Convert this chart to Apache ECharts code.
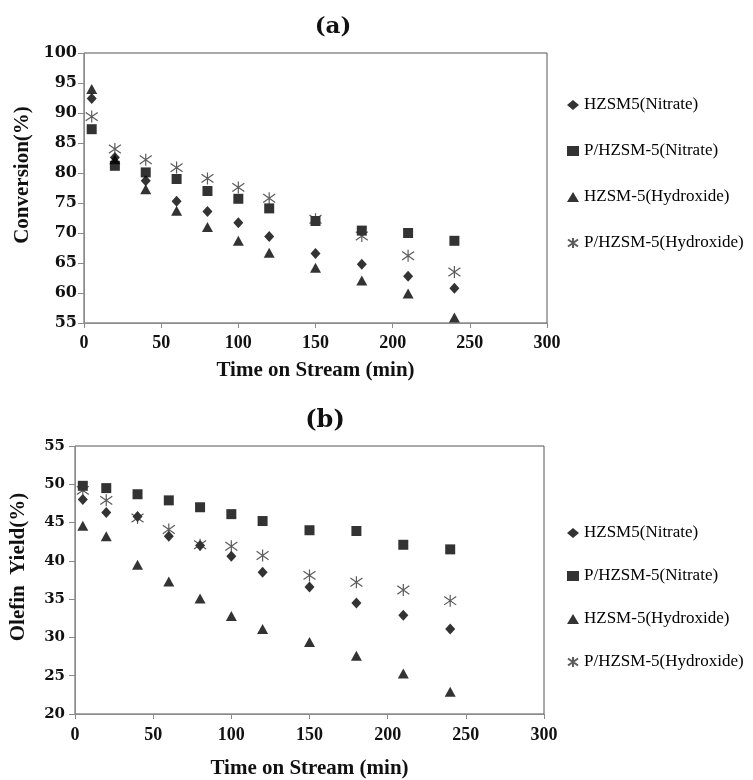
<!DOCTYPE html>
<html>
<head>
<meta charset="utf-8">
<script src="https://cdn.jsdelivr.net/npm/echarts@6/dist/echarts.min.js"></script>
<style>
html,body{margin:0;padding:0;background:#fff;}
#chart{width:753px;height:780px;}
</style>
</head>
<body>
<div id="chart"></div>
<script>
// ---- data ----
const time = [5, 20, 40, 60, 80, 100, 120, 150, 180, 210, 240];
const seriesNames = ['HZSM5(Nitrate)', 'P/HZSM-5(Nitrate)', 'HZSM-5(Hydroxide)', 'P/HZSM-5(Hydroxide)'];

// (a) Conversion (%)
const convHZSM5Nitrate    = [92.4, 82.6, 78.7, 75.3, 73.6, 71.7, 69.4, 66.6, 64.8, 62.8, 60.8];
const convPHZSM5Nitrate   = [87.3, 81.2, 80.1, 79.0, 77.0, 75.7, 74.1, 72.0, 70.4, 70.0, 68.7];
const convHZSM5Hydroxide  = [94.0, 82.3, 77.3, 73.7, 71.0, 68.7, 66.7, 64.2, 62.1, 59.9, 55.9];
const convPHZSM5Hydroxide = [89.4, 84.0, 82.2, 80.9, 79.1, 77.6, 75.8, 72.3, 69.5, 66.2, 63.5];

// (b) Olefin Yield (%)
const yieldHZSM5Nitrate    = [48.0, 46.3, 45.8, 43.2, 42.0, 40.6, 38.5, 36.6, 34.5, 32.9, 31.1];
const yieldPHZSM5Nitrate   = [49.8, 49.5, 48.7, 47.9, 47.0, 46.1, 45.2, 44.0, 43.9, 42.1, 41.5];
const yieldHZSM5Hydroxide  = [44.6, 43.2, 39.5, 37.3, 35.1, 32.8, 31.1, 29.4, 27.6, 25.3, 22.9];
const yieldPHZSM5Hydroxide = [49.2, 47.9, 45.6, 44.1, 42.1, 41.9, 40.7, 38.1, 37.2, 36.2, 34.8];

// ---- styling ----
const serif = '"Liberation Serif", "Times New Roman", serif';
const wideSerif = '"DejaVu Serif", serif';
const asteriskPath = 'path://M6,0L6,12M0,1.8L12,10.2M0,10.2L12,1.8';

const markers = [
  { symbol: 'diamond', size: [10, 11], itemStyle: { color: '#000' } },
  { symbol: 'rect', size: 10, itemStyle: { color: '#000' } },
  { symbol: 'triangle', size: [11, 10], itemStyle: { color: '#000' } },
  { symbol: asteriskPath, size: 12, itemStyle: { color: 'rgba(0,0,0,0)', borderColor: '#333', borderWidth: 1.2 } }
];

function pairs(ys) { return time.map((t, i) => [t, ys[i]]); }

function makeSeries(idx, datasets) {
  return datasets.map((ys, k) => ({
    type: 'scatter',
    name: seriesNames[k],
    xAxisIndex: idx,
    yAxisIndex: idx,
    symbol: markers[k].symbol,
    symbolSize: markers[k].size,
    itemStyle: markers[k].itemStyle,
    data: pairs(ys),
    z: 2 + k
  }));
}

function xAxisCfg(grid, gap, labelMargin) {
  return {
    type: 'value', gridIndex: grid, min: 0, max: 300, interval: 50,
    name: 'Time on Stream (min)', nameLocation: 'middle', nameGap: gap,
    nameTextStyle: { fontFamily: serif, fontWeight: 'bold', fontSize: 21, color: '#111' },
    axisLine: { show: true, lineStyle: { color: '#8a8a8a', width: 1 } },
    axisTick: { show: true, inside: false, length: 5, lineStyle: { color: '#8a8a8a' } },
    axisLabel: { fontFamily: serif, fontWeight: 'bold', fontSize: 18, color: '#111', margin: labelMargin },
    splitLine: { show: false }
  };
}

function yAxisCfg(grid, min, max, name, gap, labelSize, labelMargin) {
  return {
    type: 'value', gridIndex: grid, min: min, max: max, interval: 5,
    name: name, nameLocation: 'middle', nameGap: gap, nameRotate: 90,
    nameTextStyle: { fontFamily: serif, fontWeight: 'bold', fontSize: 21, color: '#111', padding: [0, 0, 0, 26] },
    axisLine: { show: true, lineStyle: { color: '#8a8a8a', width: 1 } },
    axisTick: { show: true, inside: false, length: 6, lineStyle: { color: '#8a8a8a' } },
    axisLabel: { fontFamily: wideSerif, fontWeight: 'bold', fontSize: labelSize, color: '#111', margin: labelMargin },
    splitLine: { show: false }
  };
}

function legendCfg(top, gap) {
  return {
    orient: 'vertical', left: 567, top: top, itemGap: gap,
    itemWidth: 12, itemHeight: 10, padding: 0,
    data: seriesNames,
    textStyle: { fontFamily: serif, fontSize: 17, color: '#000', lineHeight: 18 },
    selectedMode: false
  };
}

const option = {
  backgroundColor: '#fff',
  animation: false,
  title: [
    { text: '(a)', left: 333, top: 16, textAlign: 'center', padding: 0,
      textStyle: { fontFamily: wideSerif, fontWeight: 'bold', fontSize: 23, color: '#111' } },
    { text: '(b)', left: 325, top: 409, textAlign: 'center', padding: 0,
      textStyle: { fontFamily: wideSerif, fontWeight: 'bold', fontSize: 24, color: '#111' } }
  ],
  legend: [legendCfg(96, 28), legendCfg(524, 25)],
  grid: [
    { left: 84, top: 53, width: 463, height: 270, show: true, borderColor: '#555', borderWidth: 1, containLabel: false },
    { left: 73, top: 446, width: 471, height: 269, show: true, borderColor: '#555', borderWidth: 1, containLabel: false }
  ],
  xAxis: [xAxisCfg(0, 37, 11), xAxisCfg(1, 44, 12)],
  yAxis: [
    yAxisCfg(0, 55, 100, 'Conversion(%)', 44, 16, 7),
    yAxisCfg(1, 20, 55, 'Olefin  Yield(%)', 46, 15, 10)
  ],
  series: [].concat(
    makeSeries(0, [convHZSM5Nitrate, convPHZSM5Nitrate, convHZSM5Hydroxide, convPHZSM5Hydroxide]),
    makeSeries(1, [yieldHZSM5Nitrate, yieldPHZSM5Nitrate, yieldHZSM5Hydroxide, yieldPHZSM5Hydroxide])
  )
};

const chart = echarts.init(document.getElementById('chart'), null, { renderer: 'canvas' });
chart.setOption(option);
</script>
</body>
</html>
